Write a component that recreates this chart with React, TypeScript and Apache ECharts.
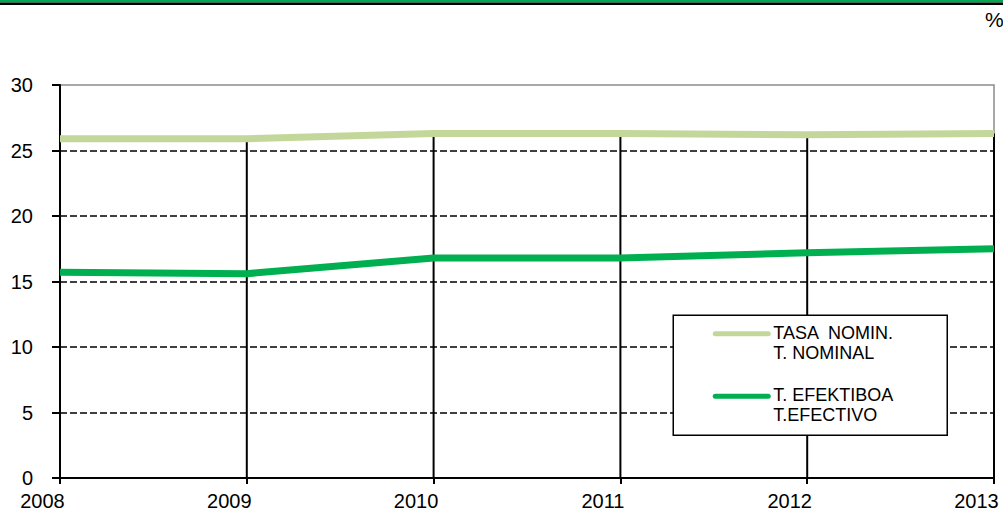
import React, { useEffect, useRef } from "react";
import * as echarts from "echarts";

const years = ["2008", "2009", "2010", "2011", "2012", "2013"];
const nominal = [25.9, 25.9, 26.3, 26.3, 26.2, 26.3];
const efectivo = [15.7, 15.6, 16.8, 16.8, 17.2, 17.5];
const nominalLabel = ["TASA  NOMIN.", "T. NOMINAL"];
const efectivoLabel = ["T. EFEKTIBOA", "T.EFECTIVO"];
const unitLabel = "%";

const FONT = "'Liberation Sans', Arial, sans-serif";
const NOMINAL_COLOR = "#c4d79b";
const EFECTIVO_COLOR = "#00b050";

export default function App() {
  const ref = useRef<HTMLDivElement>(null);

  useEffect(() => {
    if (!ref.current) return;
    const chart = echarts.init(ref.current, null, { renderer: "svg" });
    const legendLeft = 672.5;
    const legendTop = 314.5;
    chart.setOption({
      animation: false,
      backgroundColor: "#ffffff",
      textStyle: { fontFamily: FONT },
      grid: {
        left: 60,
        right: 9,
        top: 85,
        bottom: 32,
        show: true,
        borderColor: "#8c8c8c",
        borderWidth: 1.5,
        backgroundColor: "transparent",
      },
      xAxis: {
        type: "category",
        data: years,
        boundaryGap: false,
        axisLine: { lineStyle: { color: "#000", width: 2 } },
        axisTick: { show: true, length: 6, lineStyle: { color: "#000", width: 2 } },
        axisLabel: {
          color: "#000",
          fontSize: 20,
          fontFamily: FONT,
          margin: 13,
          padding: [0, 35, 0, 0],
        },
        splitLine: { show: false },
      },
      yAxis: {
        type: "value",
        min: 0,
        max: 30,
        interval: 5,
        axisLine: { show: true, lineStyle: { color: "#000", width: 2 } },
        axisTick: { show: true, length: 8, lineStyle: { color: "#000", width: 2 } },
        axisLabel: { color: "#000", fontSize: 20, fontFamily: FONT, margin: 27 },
        splitLine: {
          show: true,
          showMinLine: false,
          showMaxLine: false,
          lineStyle: { color: "#000", width: 1.6, type: [7, 3] },
        },
      },
      series: [
        {
          name: "drop",
          type: "bar",
          data: nominal,
          barWidth: 2,
          itemStyle: { color: "#000" },
          silent: true,
          z: 1,
        },
        {
          name: nominalLabel.join(" "),
          type: "line",
          data: nominal,
          symbol: "none",
          lineStyle: { color: NOMINAL_COLOR, width: 7 },
          z: 3,
        },
        {
          name: efectivoLabel.join(" "),
          type: "line",
          data: efectivo,
          symbol: "none",
          lineStyle: { color: EFECTIVO_COLOR, width: 7 },
          z: 3,
        },
      ],
      graphic: [
        { type: "rect", left: 0, top: 0, shape: { width: 1003, height: 2.5 }, style: { fill: "#00a650" }, z: 100 },
        { type: "rect", left: 0, top: 2.5, shape: { width: 1003, height: 2.5 }, style: { fill: "#000" }, z: 100 },
        {
          type: "text",
          x: 985,
          y: 9,
          style: { text: unitLabel, font: `21px ${FONT}`, fill: "#000" },
          z: 100,
        },
        {
          type: "group",
          left: legendLeft,
          top: legendTop,
          z: 100,
          children: [
            {
              type: "rect",
              shape: { x: 0, y: 0, width: 274, height: 120 },
              style: { fill: "#fff", stroke: "#000", lineWidth: 1.5 },
              z: 100,
            },
            {
              type: "line",
              shape: { x1: 42, y1: 18.5, x2: 95, y2: 18.5 },
              style: { stroke: NOMINAL_COLOR, lineWidth: 5, lineCap: "round" },
              z: 101,
            },
            {
              type: "text",
              x: 100,
              y: 8,
              style: {
                text: nominalLabel.join("\n"),
                font: `18px ${FONT}`,
                lineHeight: 20,
                fill: "#000",
                verticalAlign: "top",
              },
              z: 101,
            },
            {
              type: "line",
              shape: { x1: 42, y1: 81, x2: 95, y2: 81 },
              style: { stroke: EFECTIVO_COLOR, lineWidth: 5, lineCap: "round" },
              z: 101,
            },
            {
              type: "text",
              x: 100,
              y: 70,
              style: {
                text: efectivoLabel.join("\n"),
                font: `18px ${FONT}`,
                lineHeight: 20,
                fill: "#000",
                verticalAlign: "top",
              },
              z: 101,
            },
          ],
        },
      ],
    });
    return () => chart.dispose();
  }, []);

  return (
    <div
      ref={ref}
      style={{ position: "fixed", left: 0, top: 0, width: 1003, height: 511, background: "#fff" }}
    />
  );
}
